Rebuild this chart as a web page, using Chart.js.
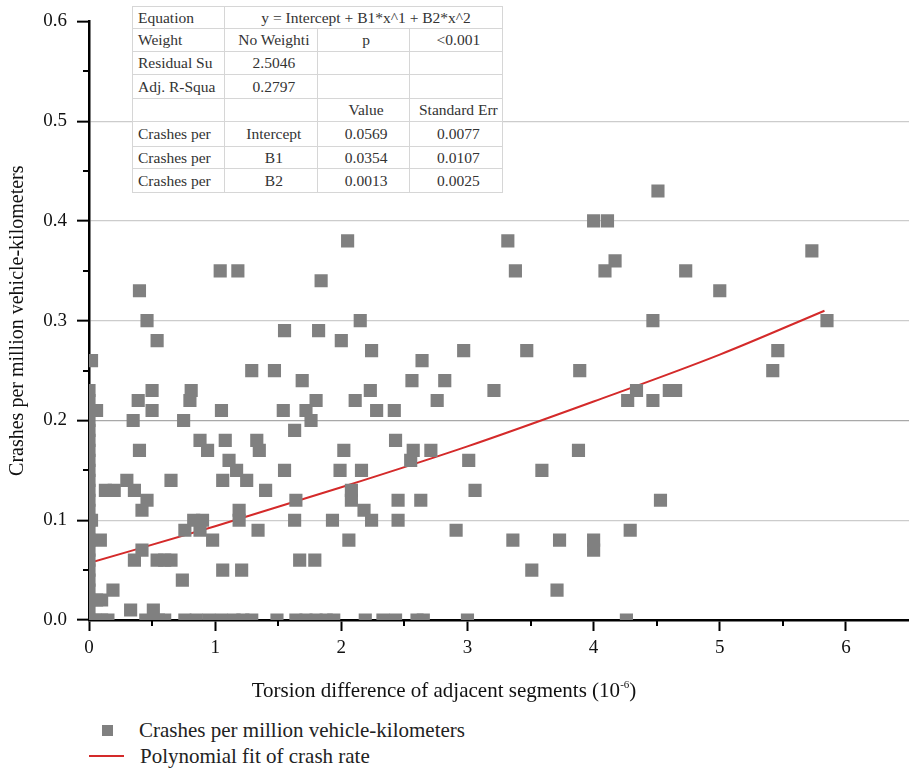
<!DOCTYPE html>
<html lang="en">
<head>
    <meta charset="UTF-8">
    <title>Crashes vs torsion difference</title>
    <script src="https://cdn.jsdelivr.net/npm/chart.js"></script>
    <style>
        body { margin: 0; background: #fff; font-family: "Liberation Serif", serif; overflow: hidden; }
        #wrap { position: relative; width: 909px; height: 769px; }
        #box { position: absolute; left: 0; top: 0; width: 909px; height: 710px; }
        table.fit {
            position: absolute; left: 132px; top: 6px; width: 371px;
            border-collapse: collapse; background: #fff; border: 1.5px solid #8a8a8a;
            font-size: 15.5px; color: #333; table-layout: fixed;
        }
        table.fit td { border: 1px solid #d6d6d6; padding: 0 0 0 5px; text-align: center; white-space: nowrap; overflow: hidden; }
        table.fit td.l { text-align: left; }
        #xtitle { position: absolute; left: 0; width: 888px; top: 677px; text-align: center; font-size: 21px; color: #111; line-height: 26px; }
        #xtitle sup { font-size: 11px; vertical-align: 9px; line-height: 0; }
        #legend { position: absolute; left: 88px; top: 717px; font-size: 21px; color: #222; }
        #legend div { height: 26px; display: flex; align-items: center; }
        .sq { display: inline-block; width: 11px; height: 11px; background: #808080; margin: 0 26px 0 14px; }
        .ln { display: inline-block; width: 35px; height: 2px; background: #d42a2a; margin: 0 16px 0 1px; }
    </style>
</head>
<body>
<div id="wrap">
    <div id="box"><canvas id="chart"></canvas></div>
    <table class="fit">
        <colgroup><col style="width:92px"><col style="width:93px"><col style="width:91px"><col style="width:93px"></colgroup>
        <tr style="height:22px"><td class="l">Equation</td><td colspan="3">y = Intercept + B1*x^1 + B2*x^2</td></tr>
        <tr style="height:23px"><td class="l">Weight</td><td>No Weighti</td><td>p</td><td>&lt;0.001</td></tr>
        <tr style="height:23px"><td class="l">Residual Su</td><td>2.5046</td><td></td><td></td></tr>
        <tr style="height:24px"><td class="l">Adj. R-Squa</td><td>0.2797</td><td></td><td></td></tr>
        <tr style="height:23px"><td class="l"></td><td></td><td>Value</td><td>Standard Err</td></tr>
        <tr style="height:25px"><td class="l">Crashes per</td><td>Intercept</td><td>0.0569</td><td>0.0077</td></tr>
        <tr style="height:22px"><td class="l">Crashes per</td><td>B1</td><td>0.0354</td><td>0.0107</td></tr>
        <tr style="height:24px"><td class="l">Crashes per</td><td>B2</td><td>0.0013</td><td>0.0025</td></tr>
    </table>
    <div id="xtitle">Torsion difference of adjacent segments (10<sup>-6</sup>)</div>
    <div id="legend">
        <div><span class="sq"></span>Crashes per million vehicle-kilometers</div>
        <div><span class="ln"></span>Polynomial fit of crash rate</div>
    </div>
</div>
<script>
    // crash points (torsion difference, crashes per million veh-km)
    const crashX = [
        0, 0, 0, 0, 0, 0, 0, 0, 0, 0, 0, 0, 0, 0, 0, 0, 0, 0, 0, 0, 0, 0, 0, 0,
        0.02, 0.02, 0.06, 0.09, 0.06, 0.1, 0.05, 0.1, 0.15, 0.13, 0.2, 0.19,
        0.3, 0.33, 0.35, 0.36, 0.36, 0.39, 0.4, 0.4, 0.42, 0.42, 0.46, 0.46,
        0.45, 0.55, 0.6, 0.5, 0.5, 0.51, 0.54, 0.54, 0.6, 0.65, 0.65, 0.74,
        0.75, 0.76, 0.8, 0.81, 0.83, 0.9, 0.88, 0.88, 0.94, 0.98,
        0.76, 0.85, 0.95, 1.05, 1.15, 1.22, 1.29,
        1.04, 1.05, 1.06, 1.06, 1.08, 1.11, 1.17, 1.18, 1.19, 1.19, 1.21, 1.25,
        1.29, 1.33, 1.35, 1.34, 1.4, 1.47, 1.49, 1.54, 1.55, 1.55, 1.63, 1.63,
        1.64, 1.67, 1.69, 1.72, 1.76, 1.79, 1.8, 1.82, 1.84,
        1.64, 1.72, 1.8, 1.88, 1.94,
        1.93, 1.99, 2.0, 2.02, 2.05, 2.06, 2.08, 2.08, 2.11, 2.15, 2.16, 2.18,
        2.19, 2.23, 2.24, 2.24, 2.28, 2.33, 2.43, 2.42, 2.43, 2.45, 2.45, 2.55,
        2.56, 2.57, 2.6, 2.65, 2.63, 2.64, 2.71, 2.76, 2.82, 2.91, 2.97, 3.0,
        3.01, 3.06, 3.21, 3.32, 3.36, 3.38, 3.47, 3.51, 3.59, 3.71, 3.73, 3.88,
        3.89, 4.0, 4.11, 4.0, 4.0, 4.09, 4.17, 4.26, 4.27, 4.29, 4.34, 4.47,
        4.47, 4.51, 4.53, 4.6, 4.65, 4.73, 5.0, 5.42, 5.46, 5.73, 5.85
    ];
    const crashY = [
        0, 0.01, 0.02, 0.03, 0.04, 0.05, 0.06, 0.07, 0.08, 0.09, 0.1, 0.11,
        0.12, 0.13, 0.14, 0.15, 0.16, 0.17, 0.18, 0.19, 0.2, 0.21, 0.22, 0.23,
        0.26, 0.1, 0.21, 0.08, 0.02, 0.02, 0, 0, 0, 0.13, 0.13, 0.03,
        0.14, 0.01, 0.2, 0.13, 0.06, 0.22, 0.17, 0.33, 0.11, 0.07, 0.3, 0.12,
        0, 0, 0, 0.23, 0.21, 0.01, 0.28, 0.06, 0.06, 0.06, 0.14, 0.04,
        0.2, 0.09, 0.22, 0.23, 0.1, 0.1, 0.18, 0.09, 0.17, 0.08,
        0, 0, 0, 0, 0, 0, 0,
        0.35, 0.21, 0.14, 0.05, 0.18, 0.16, 0.15, 0.35, 0.11, 0.1, 0.05, 0.14,
        0.25, 0.18, 0.17, 0.09, 0.13, 0.25, 0, 0.21, 0.29, 0.15, 0.19, 0.1,
        0.12, 0.06, 0.24, 0.21, 0.2, 0.06, 0.22, 0.29, 0.34,
        0, 0, 0, 0, 0,
        0.1, 0.15, 0.28, 0.17, 0.38, 0.08, 0.13, 0.12, 0.22, 0.3, 0.15, 0.11,
        0, 0.23, 0.27, 0.1, 0.21, 0, 0, 0.21, 0.18, 0.12, 0.1, 0.16,
        0.24, 0.17, 0, 0, 0.12, 0.26, 0.17, 0.22, 0.24, 0.09, 0.27, 0,
        0.16, 0.13, 0.23, 0.38, 0.08, 0.35, 0.27, 0.05, 0.15, 0.03, 0.08, 0.17,
        0.25, 0.4, 0.4, 0.08, 0.07, 0.35, 0.36, 0, 0.22, 0.09, 0.23, 0.22,
        0.3, 0.43, 0.12, 0.23, 0.23, 0.35, 0.33, 0.25, 0.27, 0.37, 0.3
    ];

    // fitted curve
    const fitX = [0, 1, 2, 3, 4, 5, 5.83];
    const fitY = [0.057, 0.094, 0.133, 0.174, 0.219, 0.266, 0.31];

    const serif = '"Liberation Serif", "DejaVu Serif", serif';

    // small half-step ticks on both axes
    const minorTicks = {
        id: 'minorTicks',
        afterDraw(chart) {
            const { ctx, chartArea, scales } = chart;
            ctx.save();
            ctx.strokeStyle = '#000';
            ctx.lineWidth = 2;
            ctx.beginPath();
            for (let v = 0.05; v < 0.6; v += 0.1) {
                const py = Math.round(scales.y.getPixelForValue(v));
                ctx.moveTo(chartArea.left - 6, py);
                ctx.lineTo(chartArea.left, py);
            }
            for (let v = 0.5; v < 6.5; v += 1) {
                const px = Math.round(scales.x.getPixelForValue(v));
                ctx.moveTo(px, chartArea.bottom);
                ctx.lineTo(px, chartArea.bottom + 6);
            }
            ctx.stroke();
            ctx.restore();
        }
    };

    new Chart(document.getElementById('chart'), {
        type: 'scatter',
        data: {
            datasets: [{
                label: 'Crashes per million vehicle-kilometers',
                data: crashX.map((x, i) => ({ x: x, y: crashY[i] })),
                pointStyle: 'rect',
                pointRadius: 9.3,
                pointBackgroundColor: '#808080',
                pointBorderWidth: 0,
                clip: 0
            }, {
                type: 'line',
                label: 'Polynomial fit of crash rate',
                data: fitX.map((x, i) => ({ x: x, y: fitY[i] })),
                borderColor: '#d42a2a',
                borderWidth: 2,
                pointRadius: 0,
                cubicInterpolationMode: 'monotone',
                fill: false
            }]
        },
        options: {
            responsive: true,
            maintainAspectRatio: false,
            animation: false,
            layout: { autoPadding: false, padding: { top: 20, right: 0, bottom: 0, left: 0 } },
            plugins: {
                legend: { display: false },
                tooltip: { enabled: false }
            },
            scales: {
                x: {
                    type: 'linear',
                    min: 0,
                    max: 6.5,
                    afterFit: s => { s.height = 90; s.paddingRight = 0; s.paddingLeft = 0; },
                    ticks: { stepSize: 1, includeBounds: false, padding: 6, color: '#111', font: { family: serif, size: 19 } },
                    grid: { drawOnChartArea: false, tickLength: 11, tickWidth: 2, tickColor: '#000' },
                    border: { color: '#000', width: 2.5 }
                },
                y: {
                    min: 0,
                    max: 0.6,
                    afterFit: s => { s.width = 89; },
                    ticks: {
                        stepSize: 0.1,
                        padding: 10,
                        color: '#111',
                        font: { family: serif, size: 19 },
                        callback: v => v.toFixed(1)
                    },
                    grid: {
                        color: c => {
                            const v = Math.round(c.tick.value * 10);
                            if (v === 0 || v === 6) return 'rgba(0,0,0,0)';
                            return v === 2 ? '#a8a8a8' : '#cccccc';
                        },
                        lineWidth: 1.3,
                        tickLength: 12,
                        tickWidth: 2,
                        tickColor: '#000'
                    },
                    border: { color: '#000', width: 2.5 },
                    title: {
                        display: true,
                        text: 'Crashes per million vehicle-kilometers',
                        color: '#111',
                        font: { family: serif, size: 20 },
                        padding: { top: 6, bottom: 0 }
                    }
                }
            }
        },
        plugins: [minorTicks]
    });
</script>
</body>
</html>
